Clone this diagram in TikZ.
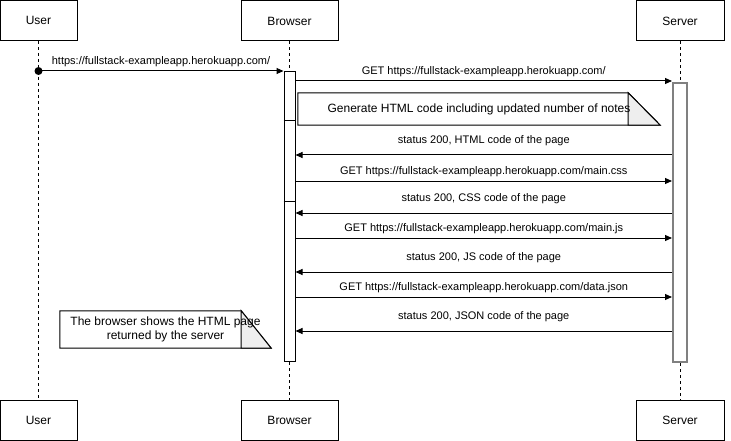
\documentclass[tikz,border=0pt]{standalone}
\usepackage{fontspec}
\setmainfont{Liberation Sans}
\usetikzlibrary{arrows.meta,positioning,calc}
\definecolor{foldgrey}{HTML}{EEEEEE}
\definecolor{bargrey}{HTML}{808080}

\begin{document}
\begin{tikzpicture}[x=1pt, y=-1pt,
    every node/.style={font=\fontsize{11}{13}\selectfont},
    actor/.style={draw, rectangle, line width=1pt, minimum height=40pt,
        font=\fontsize{12}{14}\selectfont, inner sep=0pt},
    lifeline/.style={line width=1pt, dash pattern=on 3pt off 3pt},
    actbar/.style={draw, fill=white, line width=1pt, anchor=north, inner sep=0pt},
    msg/.style={line width=1pt, -{Triangle[length=7pt,width=6pt]}},
    notebox/.style={align=center, inner sep=0pt, font=\fontsize{12}{14}\selectfont},
    notefold/.style={draw, fill=foldgrey, line width=1pt, line join=miter},
]
\useasboundingbox (0,0) rectangle (731,441);

% Participants, top and bottom
\node[actor, minimum width=77pt] (user) at (38.5,20.5) {User};
\node[actor, minimum width=97pt] (browser) at (289.5,21) {Browser};
\node[actor, minimum width=88pt] (server) at (680,21) {Server};
\node[actor, minimum width=77pt] (userb) at (38.5,420.5) {User};
\node[actor, minimum width=97pt] (browserb) at (289.5,420.5) {Browser};
\node[actor, minimum width=88pt] (serverb) at (680,420.5) {Server};

% Activation bars
\node[actbar, minimum width=11pt, minimum height=290pt] (bbar) at (289.5,71) {};
\node[actbar, draw=bargrey, line width=2pt, minimum width=14pt, minimum height=279pt] (sbar) at (680,82) {};
\draw[line width=1pt] (bbar.west |- 0,121) -- (bbar.east |- 0,121);
\draw[line width=1pt] (bbar.west |- 0,201) -- (bbar.east |- 0,201);

% Lifelines
\draw[lifeline] (user) -- (userb);
\draw[lifeline] (browser) -- (bbar);
\draw[lifeline] (bbar) -- (browserb);
\draw[lifeline] (server) -- (sbar);
\draw[lifeline] (sbar) -- (serverb);

% Messages
\fill (user |- bbar.north) circle (4pt);
\draw[msg] (user |- bbar.north) -- node[yshift=9pt] {https://fullstack-exampleapp.herokuapp.com/} (bbar.north west);
\draw[msg] (bbar.east |- 0,81) -- node[yshift=9pt] {GET https://fullstack-exampleapp.herokuapp.com/} (sbar.west |- 0,81);
\draw[msg] (sbar.west |- 0,155) -- node[yshift=14pt] {status 200, HTML code of the page} (bbar.east |- 0,155);
\draw[msg] (bbar.east |- 0,181) -- node[yshift=9pt] {GET https://fullstack-exampleapp.herokuapp.com/main.css} (sbar.west |- 0,181);
\draw[msg] (sbar.west |- 0,213) -- node[yshift=14pt] {status 200, CSS code of the page} (bbar.east |- 0,213);
\draw[msg] (bbar.east |- 0,238) -- node[yshift=9pt] {GET https://fullstack-exampleapp.herokuapp.com/main.js} (sbar.west |- 0,238);
\draw[msg] (sbar.west |- 0,272) -- node[yshift=14pt] {status 200, JS code of the page} (bbar.east |- 0,272);
\draw[msg] (bbar.east |- 0,297) -- node[yshift=9pt] {GET https://fullstack-exampleapp.herokuapp.com/data.json} (sbar.west |- 0,297);
\draw[msg] (sbar.west |- 0,331) -- node[yshift=14pt] {status 200, JSON code of the page} (bbar.east |- 0,331);

% Notes with folded corner
\node[notebox, minimum width=362pt, minimum height=32pt] (gen) at (479,109) {};
\draw[fill=white, line width=1pt] (gen.north west) -- ($(gen.north east)+(-32,0)$) -- (gen.south east) -- (gen.south west) -- cycle;
\draw[notefold] ($(gen.north east)+(-32,0)$) -- ($(gen.south east)+(-32,0)$) -- (gen.south east) -- cycle;
\node[notebox] at (gen) {Generate HTML code including updated number of notes};

\node[notebox, minimum width=211pt, minimum height=37pt] (shows) at (165.5,329.5) {};
\draw[fill=white, line width=1pt] (shows.north west) -- ($(shows.north east)+(-30,0)$) -- (shows.south east) -- (shows.south west) -- cycle;
\draw[notefold] ($(shows.north east)+(-30,0)$) -- ($(shows.south east)+(-30,0)$) -- (shows.south east) -- cycle;
\node[notebox] at (shows) {The browser shows the HTML page\\returned by the server};

\end{tikzpicture}
\end{document}
